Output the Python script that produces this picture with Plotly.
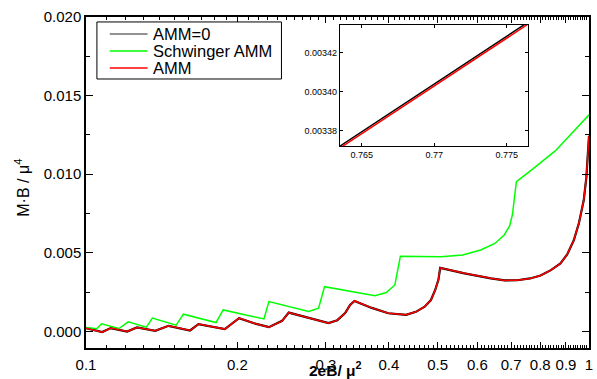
import plotly.graph_objects as go

# ---- data ----
amm_x = [0.1, 0.1077, 0.112, 0.1207, 0.1263, 0.1373, 0.1459, 0.161, 0.1673, 0.1888,
         0.2015, 0.2158, 0.231, 0.2454, 0.253, 0.2772, 0.3035, 0.316, 0.3275, 0.335, 0.3418,
         0.37, 0.399, 0.4328, 0.4529, 0.4713, 0.485, 0.4946, 0.502, 0.506, 0.5654, 0.638,
         0.68, 0.72, 0.7635, 0.8012, 0.84, 0.8775, 0.905, 0.9328, 0.955, 0.9762, 0.988, 1.0]
amm_y = [0.000215, -0.00004, 0.000215, 0.0, 0.000253, 0.000044, 0.000361, 0.000063, 0.000468, 0.000152,
         0.000848, 0.00052, 0.000278, 0.000677, 0.0012, 0.00085, 0.000532, 0.00072, 0.00117, 0.00169, 0.00194,
         0.0015, 0.00116, 0.00106, 0.00125, 0.00158, 0.0020, 0.00264, 0.0033, 0.00405, 0.0037, 0.00338,
         0.00325, 0.00326, 0.003373, 0.00356, 0.0039, 0.00433, 0.0049, 0.0058, 0.0069, 0.00834, 0.0098, 0.01245]
amm0_y = amm_y  # AMM=0 curve coincides with AMM at this scale

sch_x = [0.1, 0.105, 0.1074, 0.1163, 0.1213, 0.1318, 0.1355, 0.1511, 0.1562, 0.1813,
         0.1874, 0.2258, 0.231, 0.2772, 0.29, 0.298, 0.3754, 0.3953, 0.4112, 0.4217, 0.5076,
         0.561, 0.609, 0.65, 0.6783, 0.695, 0.7042, 0.7172, 0.7647, 0.858, 1.0]
sch_y = [0.000253, 0.000171, 0.000487, 0.00019, 0.000614, 0.000278, 0.000848, 0.000405, 0.0011, 0.00057,
         0.00137, 0.0008, 0.0019, 0.00127, 0.00148, 0.00285, 0.00228, 0.00248, 0.00296, 0.00479, 0.00475,
         0.00487, 0.00518, 0.0056, 0.00614, 0.0067, 0.00741, 0.00953, 0.01022, 0.0115, 0.01378]

inset_x = [0.7630, 0.7770]
inset_amm0_y = [0.0033699, 0.0034380]
inset_amm_y = [0.0033689, 0.0034370]

legend_names = ["AMM=0", "Schwinger AMM", "AMM"]
legend_colors = ["#6e6e6e", "#00ff00", "#ff0000"]

x_tick_vals = [0.1, 0.2, 0.3, 0.4, 0.5, 0.6, 0.7, 0.8, 0.9, 1.0]
x_tick_text = ["0.1", "0.2", "0.3", "0.4", "0.5", "0.6", "0.7", "0.8", "0.9", "1"]
x_minor_vals = [round(0.1 + 0.01 * i, 2) for i in range(1, 91)]
y_tick_vals = [0.0, 0.005, 0.010, 0.015, 0.020]
y_tick_text = ["0.000", "0.005", "0.010", "0.015", "0.020"]
y_minor_vals = [0.0025, 0.0075, 0.0125, 0.0175]
ix_tick_vals = [0.765, 0.77, 0.775]
ix_tick_text = ["0.765", "0.77", "0.775"]
iy_tick_vals = [0.00338, 0.00340, 0.00342]
iy_tick_text = ["0.00338", "0.00340", "0.00342"]

FONT = "Liberation Sans, Arial, sans-serif"

fig = go.Figure()
fig.add_trace(go.Scatter(x=amm_x, y=amm0_y, mode="lines", name=legend_names[0],
                         line=dict(color="black", width=2.2)))
fig.add_trace(go.Scatter(x=sch_x, y=sch_y, mode="lines", name=legend_names[1],
                         line=dict(color="#00ff00", width=1.5)))
fig.add_trace(go.Scatter(x=amm_x, y=amm_y, mode="lines", name=legend_names[2],
                         line=dict(color="#ff0000", width=1.5)))
# inset
fig.add_trace(go.Scatter(x=inset_x, y=inset_amm0_y, mode="lines", showlegend=False,
                         line=dict(color="black", width=1.5), xaxis="x2", yaxis="y2"))
fig.add_trace(go.Scatter(x=inset_x, y=inset_amm_y, mode="lines", showlegend=False,
                         line=dict(color="#ff0000", width=1.5), xaxis="x2", yaxis="y2"))

# manual legend (compact rows as in the reference)
shapes = [dict(type="rect", xref="paper", yref="paper", x0=0.0217, x1=0.3886,
               y0=0.8127, y1=0.985, line=dict(color="black", width=1),
               fillcolor="white", layer="above")]
annotations = []
row_y = [0.9486, 0.8973, 0.8459]
for name, col, ry in zip(legend_names, legend_colors, row_y):
    shapes.append(dict(type="line", xref="paper", yref="paper", x0=0.0473, x1=0.1223,
                       y0=ry, y1=ry, line=dict(color=col, width=1.5), layer="above"))
    annotations.append(dict(text=name, xref="paper", yref="paper", x=0.1300, y=ry,
                            xanchor="left", yanchor="middle", showarrow=False,
                            font=dict(family=FONT, size=16.5, color="black")))

annotations += [
    dict(text="M·B / μ<sup>4</sup>", xref="paper", yref="paper",
         x=-0.126, y=0.483, xanchor="center", yanchor="middle",
         textangle=-90, showarrow=False, font=dict(family=FONT, size=16)),
    dict(text="<b>2eB/ μ<sup>2</sup></b>", xref="paper", yref="paper",
         x=0.497, y=-0.064, xanchor="center", yanchor="middle",
         showarrow=False, font=dict(family=FONT, size=15.5)),
]

fig.update_layout(
    width=597, height=379,
    margin=dict(l=86, r=4, t=17, b=31),
    paper_bgcolor="white", plot_bgcolor="white",
    font=dict(family=FONT, size=15, color="black"),
    showlegend=False,
    xaxis=dict(type="log", range=[-1, 0], tickmode="array",
               tickvals=x_tick_vals, ticktext=x_tick_text,
               ticks="inside", ticklen=6, tickwidth=1, tickcolor="black",
               showline=True, linecolor="black", linewidth=1.5, mirror="ticks",
               showgrid=False, zeroline=False, ticklabelstandoff=2,
               minor=dict(tickmode="array", tickvals=x_minor_vals, ticks="inside",
                          ticklen=3, tickcolor="black", showgrid=False),
               tickfont=dict(size=15)),
    yaxis=dict(range=[-0.00105, 0.020], tickmode="array",
               tickvals=y_tick_vals, ticktext=y_tick_text,
               ticks="inside", ticklen=7, tickwidth=1, tickcolor="black",
               showline=True, linecolor="black", linewidth=1.5, mirror="ticks",
               showgrid=False, zeroline=False,
               minor=dict(tickmode="array", tickvals=y_minor_vals, ticks="inside",
                          ticklen=4, tickcolor="black", showgrid=False),
               tickfont=dict(size=15)),
    xaxis2=dict(domain=[0.505, 0.878], anchor="y2", range=[0.7635, 0.77644],
                tickmode="array", tickvals=ix_tick_vals, ticktext=ix_tick_text,
                ticks="inside", ticklen=3, tickcolor="black",
                showline=True, linecolor="black", linewidth=1.2, mirror="ticks",
                showgrid=False, zeroline=False, tickfont=dict(size=9)),
    yaxis2=dict(domain=[0.61, 0.976], anchor="x2", range=[0.0033723, 0.003434],
                tickmode="array", tickvals=iy_tick_vals, ticktext=iy_tick_text,
                ticks="inside", ticklen=3, tickcolor="black",
                showline=True, linecolor="black", linewidth=1.2, mirror="ticks",
                showgrid=False, zeroline=False, tickfont=dict(size=9)),
    shapes=shapes,
    annotations=annotations,
)

fig.write_html("out.html")
